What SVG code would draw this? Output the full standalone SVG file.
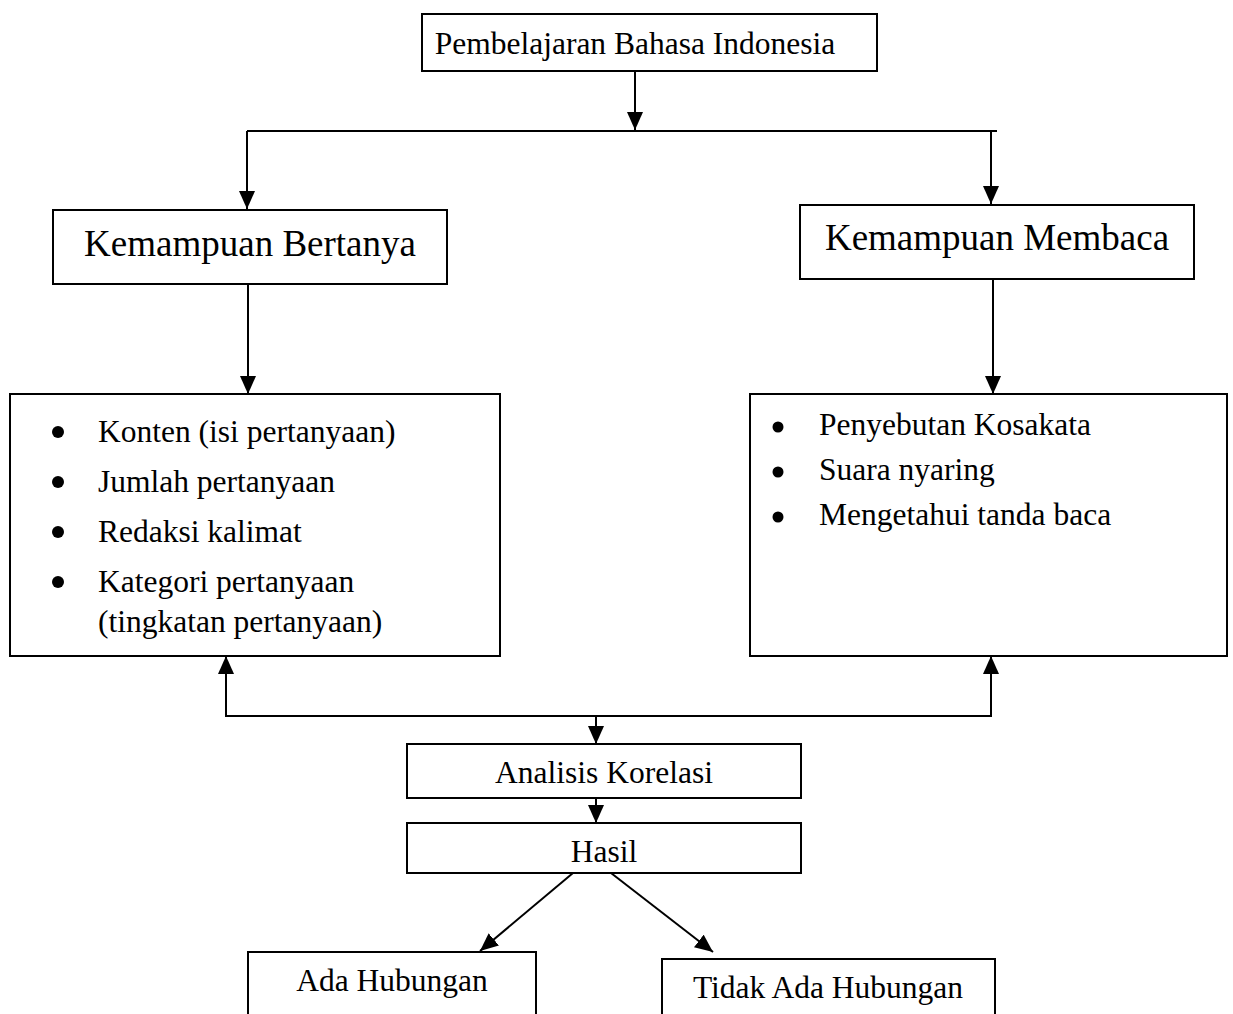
<svg xmlns="http://www.w3.org/2000/svg" width="1233" height="1014" viewBox="0 0 1233 1014">
<style>
.box{fill:#fff;stroke:#000;stroke-width:2}
.t{font-family:"Liberation Serif","Times New Roman",serif;font-size:31.5px;fill:#000}
.h{font-family:"Liberation Serif","Times New Roman",serif;font-size:37px;fill:#000}
.c{text-anchor:middle}
.ln{fill:none;stroke:#000;stroke-width:2}
</style>
<defs>
<marker id="arr" viewBox="0 0 18 16" refX="18" refY="8" markerWidth="18" markerHeight="16" orient="auto" markerUnits="userSpaceOnUse">
<path d="M0,0 L18,8 L0,16 Z" fill="#000"/>
</marker>
</defs>
<rect width="1233" height="1014" fill="#fff"/>
<g id="connectors">
<line class="ln" x1="635" y1="71" x2="635" y2="130" marker-end="url(#arr)"/>
<line class="ln" x1="247" y1="131" x2="997" y2="131"/>
<line class="ln" x1="247" y1="131" x2="247" y2="209" marker-end="url(#arr)"/>
<line class="ln" x1="991" y1="131" x2="991" y2="204" marker-end="url(#arr)"/>
<line class="ln" x1="248" y1="284" x2="248" y2="394" marker-end="url(#arr)"/>
<line class="ln" x1="993" y1="279" x2="993" y2="394" marker-end="url(#arr)"/>
<polyline class="ln" points="226,656 226,716 991,716 991,656"/>
<line class="ln" x1="226" y1="716" x2="226" y2="656" marker-end="url(#arr)"/>
<line class="ln" x1="991" y1="716" x2="991" y2="656" marker-end="url(#arr)"/>
<line class="ln" x1="596" y1="716" x2="596" y2="744" marker-end="url(#arr)"/>
<line class="ln" x1="596" y1="798" x2="596" y2="823" marker-end="url(#arr)"/>
<line class="ln" x1="573" y1="873" x2="480" y2="951" marker-end="url(#arr)"/>
<line class="ln" x1="611" y1="873" x2="713" y2="952" marker-end="url(#arr)"/>
</g>
<g id="node-pembelajaran">
<rect class="box" x="422" y="14" width="455" height="57"/>
<text class="t c" x="635" y="54">Pembelajaran Bahasa Indonesia</text>
</g>
<g id="node-bertanya">
<rect class="box" x="53" y="210" width="394" height="74"/>
<text class="h c" x="250" y="256">Kemampuan Bertanya</text>
</g>
<g id="node-membaca">
<rect class="box" x="800" y="205" width="394" height="74"/>
<text class="h c" x="997" y="250">Kemampuan Membaca</text>
</g>
<g id="node-list-bertanya">
<rect class="box" x="10" y="394" width="490" height="262"/>
<circle cx="58" cy="432" r="6"/>
<circle cx="58" cy="482" r="6"/>
<circle cx="58" cy="532" r="6"/>
<circle cx="58" cy="582" r="6"/>
<text class="t" x="98" y="442">Konten (isi pertanyaan)</text>
<text class="t" x="98" y="492">Jumlah pertanyaan</text>
<text class="t" x="98" y="542">Redaksi kalimat</text>
<text class="t" x="98" y="592">Kategori pertanyaan</text>
<text class="t" x="98" y="632">(tingkatan pertanyaan)</text>
</g>
<g id="node-list-membaca">
<rect class="box" x="750" y="394" width="477" height="262"/>
<circle cx="778" cy="427" r="5.5"/>
<circle cx="778" cy="472" r="5.5"/>
<circle cx="778" cy="517" r="5.5"/>
<text class="t" x="819" y="435">Penyebutan Kosakata</text>
<text class="t" x="819" y="480">Suara nyaring</text>
<text class="t" x="819" y="525">Mengetahui tanda baca</text>
</g>
<g id="node-analisis">
<rect class="box" x="407" y="744" width="394" height="54"/>
<text class="t c" x="604" y="783">Analisis Korelasi</text>
</g>
<g id="node-hasil">
<rect class="box" x="407" y="823" width="394" height="50"/>
<text class="t c" x="604" y="862">Hasil</text>
</g>
<g id="node-ada">
<rect class="box" x="248" y="952" width="288" height="80"/>
<text class="t c" x="392" y="991">Ada Hubungan</text>
</g>
<g id="node-tidak">
<rect class="box" x="662" y="959" width="333" height="80"/>
<text class="t c" x="828" y="998">Tidak Ada Hubungan</text>
</g>
</svg>
